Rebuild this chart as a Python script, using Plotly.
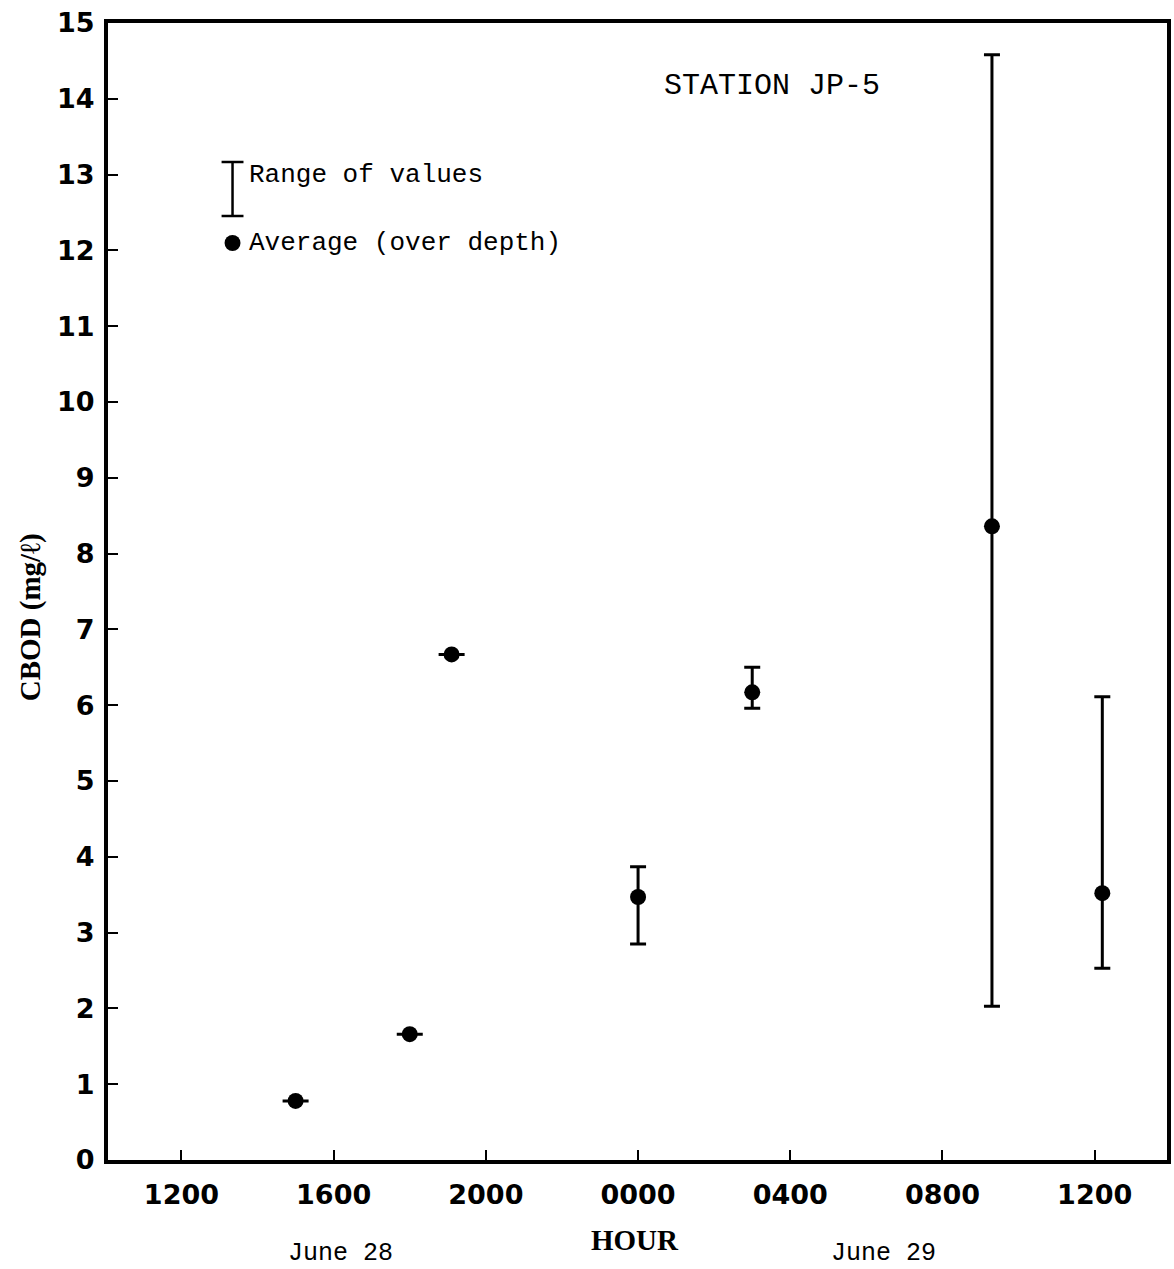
import plotly.graph_objects as go

# Sampling times, hours relative to midnight June 28/29
hours = [-9.0, -6.0, -4.9, 0.0, 3.0, 9.3, 12.2]
# CBOD averaged over depth (mg/l)
cbod_avg = [0.78, 1.66, 6.67, 3.47, 6.17, 8.36, 3.52]
# Range of values over depth
cbod_min = [0.78, 1.66, 6.67, 2.85, 5.96, 2.03, 2.53]
cbod_max = [0.78, 1.66, 6.67, 3.87, 6.50, 14.58, 6.11]

tick_hours = [-12, -8, -4, 0, 4, 8, 12]
tick_labels = ["1200", "1600", "2000", "0000", "0400", "0800", "1200"]
y_ticks = list(range(0, 16))

W, H = 1174, 1269
L, R, T, B = 108, 3, 23, 109

def px(x):
    return (x - L) / (W - L - R)

def py(y):
    return (H - B - y) / (H - T - B)

fig = go.Figure()

# Points whose range over depth is zero get a wider flat cap
flat = [i for i in range(len(hours)) if cbod_max[i] - cbod_min[i] <= 0]
spread = [i for i in range(len(hours)) if cbod_max[i] - cbod_min[i] > 0]

for idx, cap in ((flat, 13), (spread, 8)):
    fig.add_trace(go.Scatter(
        x=[hours[i] for i in idx],
        y=[cbod_avg[i] for i in idx],
        mode="markers",
        marker=dict(symbol="circle", size=16, color="black"),
        error_y=dict(
            type="data",
            symmetric=False,
            array=[cbod_max[i] - cbod_avg[i] for i in idx],
            arrayminus=[cbod_avg[i] - cbod_min[i] for i in idx],
            color="black",
            thickness=3,
            width=cap,
        ),
        showlegend=False,
        hoverinfo="skip",
    ))

# Key: range bar and average dot
key_x, key_top, key_bot, key_half = 233, 162, 216, 11
shapes = [
    dict(type="line", xref="paper", yref="paper",
         x0=px(key_x), x1=px(key_x), y0=py(key_top), y1=py(key_bot),
         line=dict(color="black", width=2.5)),
    dict(type="line", xref="paper", yref="paper",
         x0=px(key_x - key_half), x1=px(key_x + key_half), y0=py(key_top), y1=py(key_top),
         line=dict(color="black", width=2.5)),
    dict(type="line", xref="paper", yref="paper",
         x0=px(key_x - key_half), x1=px(key_x + key_half), y0=py(key_bot), y1=py(key_bot),
         line=dict(color="black", width=2.5)),
    dict(type="circle", xref="paper", yref="paper",
         x0=px(key_x - 8), x1=px(key_x + 8), y0=py(243 + 8), y1=py(243 - 8),
         fillcolor="black", line=dict(color="black", width=0)),
]

mono = "Liberation Mono"
annotations = [
    dict(text="Range of values", x=px(248), y=py(175), xanchor="left", yanchor="middle",
         font=dict(family=mono, size=26, color="black")),
    dict(text="Average (over depth)", x=px(248), y=py(243), xanchor="left", yanchor="middle",
         font=dict(family=mono, size=26, color="black")),
    dict(text="STATION JP-5", x=px(664), y=py(86), xanchor="left", yanchor="middle",
         font=dict(family=mono, size=30, color="black")),
    dict(text="June 28", x=px(341), y=py(1253), xanchor="center", yanchor="middle",
         font=dict(family=mono, size=25, color="black")),
    dict(text="June 29", x=px(886), y=py(1253), xanchor="center", yanchor="middle",
         font=dict(family=mono, size=25, color="black")),
    dict(text="<b>HOUR</b>", x=px(637), y=py(1240), xanchor="center", yanchor="middle",
         font=dict(family="Liberation Serif", size=29, color="black")),
    dict(text="<b>CBOD (mg/ℓ)</b>", x=px(30), y=py(617), xanchor="center", yanchor="middle",
         textangle=-90, font=dict(family="Liberation Serif", size=29, color="black")),
]
for a in annotations:
    a.update(xref="paper", yref="paper", showarrow=False)

axis_common = dict(
    showline=True, linecolor="black", linewidth=4, mirror=True,
    ticks="inside", ticklen=10, tickwidth=2, tickcolor="black",
    showgrid=False, zeroline=False,
    tickfont=dict(family="DejaVu Sans", size=27, color="black", weight="bold"),
)

fig.update_layout(
    width=W, height=H,
    margin=dict(l=L, r=R, t=T, b=B, pad=0),
    paper_bgcolor="white", plot_bgcolor="white",
    xaxis=dict(range=[-13.93, 13.9], tickmode="array", tickvals=tick_hours,
               ticktext=tick_labels, ticklabelstandoff=8, **axis_common),
    yaxis=dict(range=[0, 15], tickmode="array", tickvals=y_ticks,
               ticktext=[str(v) for v in y_ticks], ticklabelstandoff=4, **axis_common),
    shapes=shapes,
    annotations=annotations,
)

fig.write_html("out.html")
